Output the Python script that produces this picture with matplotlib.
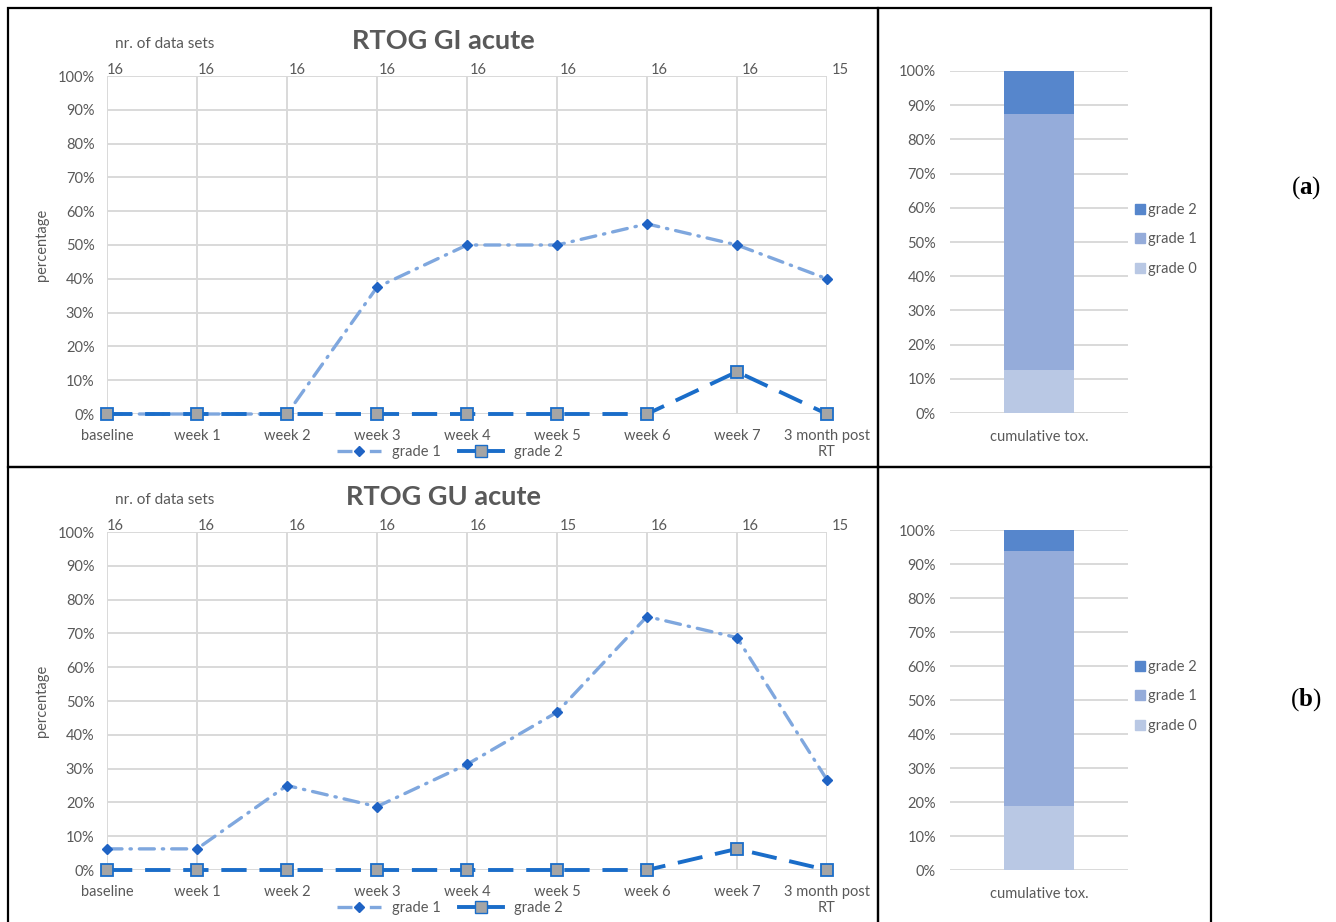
import matplotlib.pyplot as plt
import matplotlib.patches as mpatches
from matplotlib.lines import Line2D
import numpy as np

plt.rcParams['font.family'] = ['Lato', 'DejaVu Sans']
plt.rcParams['mathtext.fontset'] = 'custom'
plt.rcParams['mathtext.bf'] = 'Liberation Serif:bold'
plt.rcParams['mathtext.rm'] = 'Liberation Serif'

categories = ["baseline", "week 1", "week 2", "week 3", "week 4", "week 5",
              "week 6", "week 7", "3 month post\nRT"]

gi_grade1 = [0, 0, 0, 37.5, 50, 50, 56.25, 50, 40]
gi_grade2 = [0, 0, 0, 0, 0, 0, 0, 12.5, 0]
gi_n = [16, 16, 16, 16, 16, 16, 16, 16, 15]
gi_cum = {"grade 0": 12.5, "grade 1": 75.0, "grade 2": 12.5}

gu_grade1 = [6.25, 6.25, 25, 18.75, 31.25, 46.67, 75, 68.75, 26.67]
gu_grade2 = [0, 0, 0, 0, 0, 0, 0, 6.25, 0]
gu_n = [16, 16, 16, 16, 16, 15, 16, 16, 15]
gu_cum = {"grade 0": 18.75, "grade 1": 75.0, "grade 2": 6.25}

W, H = 1336, 922
TXT = "#595959"
GRID = "#D9D9D9"
C_G1 = "#7FA7DE"
C_G1M = "#1F63C4"
C_G2 = "#1A6DC9"
BAR_COLORS = {"grade 0": "#B9C8E4", "grade 1": "#95ACDA", "grade 2": "#5686CC"}

fig = plt.figure(figsize=(W / 100, H / 100), dpi=100)


def fx(px):
    return px / W


def fy(py):
    return 1 - py / H


def line_panel(top_px, title, grade1, grade2, nsets):
    bottom_px = top_px + 338
    ax = fig.add_axes([fx(107), fy(bottom_px), fx(827) - fx(107), fy(top_px) - fy(bottom_px)])
    x = np.arange(len(categories))
    ax.set_xlim(0, len(categories) - 1)
    ax.set_ylim(0, 100)
    ax.set_yticks(np.arange(0, 101, 10))
    ax.set_yticklabels([f"{v}%" for v in range(0, 101, 10)])
    ax.set_xticks(x)
    ax.set_xticklabels(categories)
    ax.tick_params(length=0, labelsize=10.5, labelcolor=TXT)
    ax.tick_params(axis='y', pad=9)
    ax.tick_params(axis='x', pad=11)
    for s in ax.spines.values():
        s.set_visible(False)
    ax.grid(True, color=GRID, lw=1.4)
    ax.set_axisbelow(True)
    ax.set_ylabel("percentage", color=TXT, fontsize=10.5, labelpad=6)

    ax.plot(x, grade1, color=C_G1, lw=2.4, dashes=(4.5, 2.4, 0.4, 2.4),
            dash_capstyle='round', marker='D', ms=5, mfc=C_G1M, mec=C_G1M,
            clip_on=False, zorder=3)
    ax.plot(x, grade2, color=C_G2, lw=2.8, dashes=(6.5, 3.3),
            marker='s', ms=8, mfc="#A5A5A5", mec=C_G2, mew=1.3,
            clip_on=False, zorder=4)

    for i, n in enumerate(nsets):
        ax.annotate(str(n), (i, 100), xytext=(i * 0.45, -1), textcoords='offset points',
                    ha='left', va='bottom', fontsize=10.5, color=TXT, annotation_clip=False)
    fig.text(fx(165), fy(top_px - 32), "nr. of data sets", ha='center', va='center',
             fontsize=11, color=TXT)
    fig.text(fx(443), fy(top_px - 35), title, ha='center', va='center',
             fontsize=19.5, fontweight='bold', color=TXT)

    handles = [Line2D([], [], color=C_G1, lw=2.4, dashes=(4.5, 2.4, 0.4, 2.4),
                      marker='D', ms=5, mfc=C_G1M, mec=C_G1M),
               Line2D([], [], color=C_G2, lw=2.8, marker='s', ms=8,
                      mfc="#A5A5A5", mec=C_G2)]
    fig.legend(handles, ["grade 1", "grade 2"], loc='center',
               bbox_to_anchor=(fx(450), fy(bottom_px + 38)), ncol=2, frameon=False,
               fontsize=10.5, labelcolor=TXT, handlelength=3, columnspacing=1.2)


def bar_panel(top_px, bottom_px, cum, legend_px):
    ax = fig.add_axes([fx(950), fy(bottom_px), fx(1128) - fx(950), fy(top_px) - fy(bottom_px)])
    base = 0
    for k in ["grade 0", "grade 1", "grade 2"]:
        ax.bar(0, cum[k], bottom=base, width=0.393, color=BAR_COLORS[k], zorder=3)
        base += cum[k]
    ax.set_xlim(-0.5, 0.5)
    ax.set_ylim(0, 100)
    ax.set_yticks(np.arange(0, 101, 10))
    ax.set_yticklabels([f"{v}%" for v in range(0, 101, 10)])
    ax.set_xticks([0])
    ax.set_xticklabels(["cumulative tox."])
    ax.tick_params(length=0, labelsize=10.5, labelcolor=TXT)
    ax.tick_params(axis='y', pad=10)
    ax.tick_params(axis='x', pad=12)
    for s in ax.spines.values():
        s.set_visible(False)
    ax.yaxis.grid(True, color=GRID, lw=1.4)
    ax.set_axisbelow(True)
    handles = [mpatches.Patch(color=BAR_COLORS[k]) for k in ["grade 2", "grade 1", "grade 0"]]
    fig.legend(handles, ["grade 2", "grade 1", "grade 0"], loc='upper left',
               bbox_to_anchor=(fx(1122), fy(legend_px)), frameon=False, fontsize=10.5,
               labelcolor=TXT, handlelength=0.7, handleheight=0.7, handletextpad=0.2,
               labelspacing=1.05)


line_panel(76, "RTOG GI acute", gi_grade1, gi_grade2, gi_n)
line_panel(532, "RTOG GU acute", gu_grade1, gu_grade2, gu_n)
bar_panel(71, 413, gi_cum, 190)
bar_panel(530, 870, gu_cum, 647)

# panel frames
for (x0, y0, x1, y1) in [(8, 8, 878, 467), (878, 8, 1211, 467),
                         (8, 467, 878, 925), (878, 467, 1211, 925)]:
    fig.patches.append(mpatches.Rectangle((fx(x0), fy(y1)), fx(x1) - fx(x0), fy(y0) - fy(y1),
                                          transform=fig.transFigure, fill=False,
                                          ec='black', lw=1.6))

fig.text(fx(1306), fy(188), r"($\mathbf{a}$)", ha='center', va='center', fontsize=18,
         family='Liberation Serif')
fig.text(fx(1306), fy(700), r"($\mathbf{b}$)", ha='center', va='center', fontsize=18,
         family='Liberation Serif')

fig.savefig("out.png", dpi=100)
